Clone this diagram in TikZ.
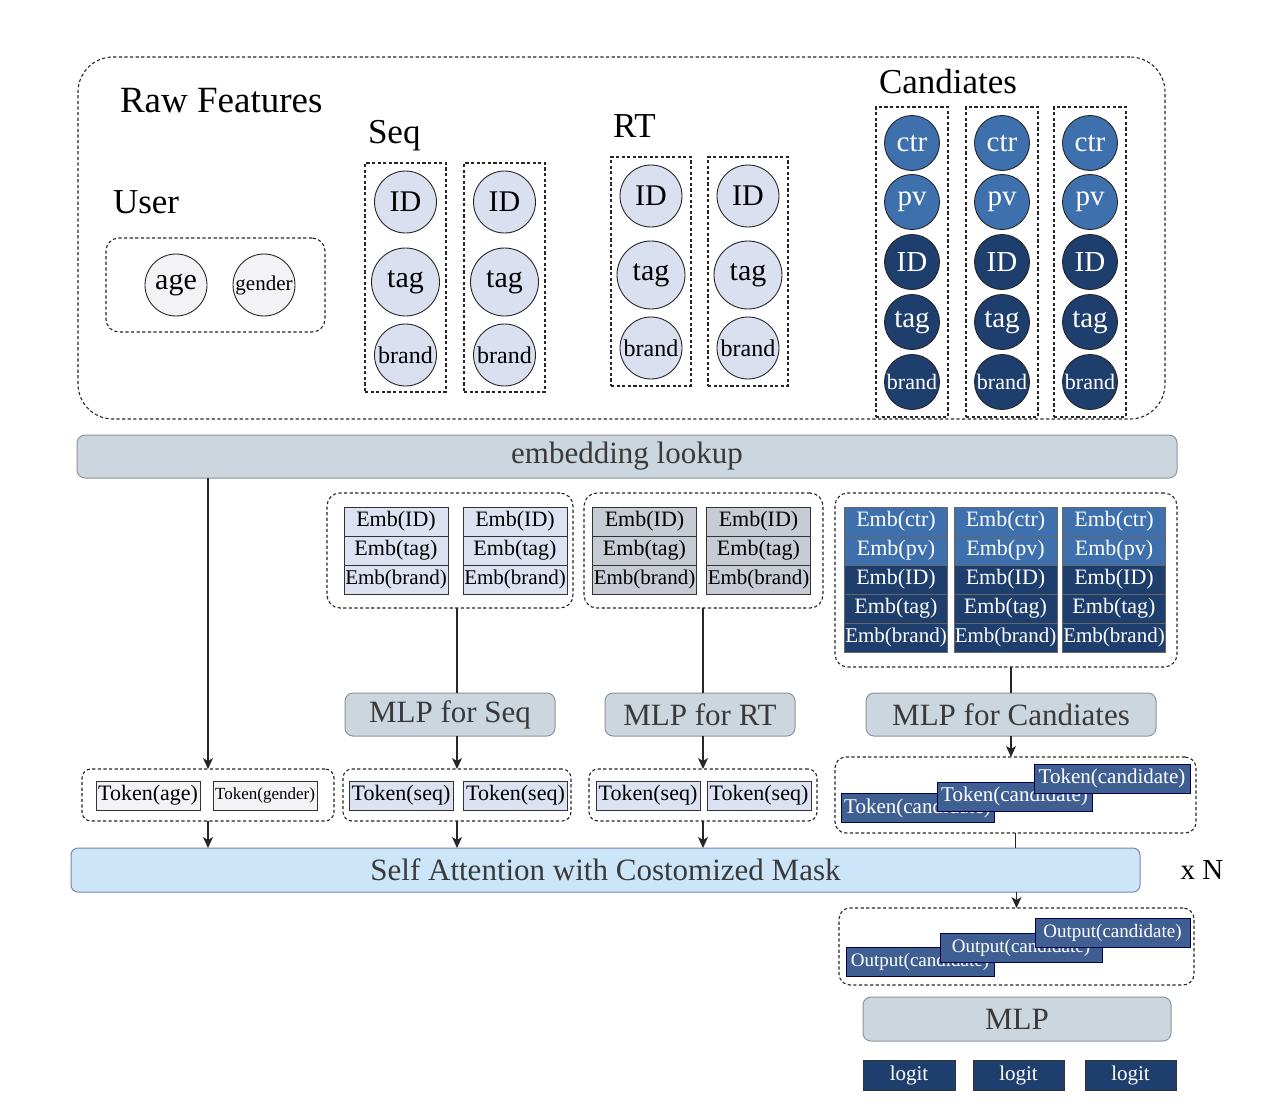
\documentclass[tikz,border=0pt]{standalone}
\usepackage{fontspec}
\setmainfont{Liberation Serif}
\usetikzlibrary{arrows.meta}
\newcommand\setfs[1]{\fontsize{#1}{#1}\selectfont}
\definecolor{lightc}{HTML}{F3F3F5}
\definecolor{seqc}{HTML}{DAE0EF}
\definecolor{candl}{HTML}{3E70AE}
\definecolor{candd}{HTML}{1E3E6E}
\definecolor{embseq}{HTML}{DCE2F1}
\definecolor{embrt}{HTML}{C7CBD4}
\definecolor{tokc}{HTML}{3F5F92}
\definecolor{barc}{HTML}{CCD6DF}
\definecolor{attc}{HTML}{CCE5F8}
\definecolor{bard}{HTML}{8C949C}
\definecolor{bartext}{HTML}{3A3A3A}
\begin{document}
\begin{tikzpicture}[x=1pt,y=-1pt,
  every node/.style={inner sep=0pt, outer sep=0pt},
  dbox/.style={draw=black!85, line width=1.1pt, dash pattern=on 3.2pt off 2.4pt},
  rbox/.style={dbox, rounded corners=13pt},
  title/.style={anchor=base west, font=\setfs{35}},
  circ/.style={circle, draw=black!85, line width=0.9pt, minimum size=#1},
  lc/.style={circ=#1, fill=lightc},
  sc/.style={circ=#1, fill=seqc, font=\setfs{30}},
  ccl/.style={circ=55pt, fill=candl, text=white, font=\setfs{29}},
  ccd/.style={circ=55pt, fill=candd, text=white, font=\setfs{29}},
  cell/.style={draw=black!80, line width=0.9pt, minimum width=104pt, minimum height=29pt, font=\setfs{22}},
  ccell/.style={draw=black!60, line width=0.6pt, minimum width=103pt, minimum height=29pt, font=\setfs{22}, text=white},
  bar/.style={draw=bard, line width=1pt, fill=barc, rounded corners=8pt, text=bartext, font=\setfs{31}},
  tok/.style={draw=black!80, line width=0.9pt, minimum width=104pt, minimum height=29pt, font=\setfs{22}},
  ctok/.style={draw=black!70!blue, line width=0.6pt, fill=tokc, text=white, minimum height=29pt},
  conn/.style={draw=black!85, line width=1.1pt},
  arr/.style={conn, -{Stealth[length=11pt,width=10pt,inset=3pt]}}
]
\useasboundingbox (0,0) rectangle (1280,1109);

% ---------- Raw features ----------
\node[dbox, rounded corners=35pt, minimum width=1087pt, minimum height=362pt] (raw) at (621.5,238) {};
\node[title, font=\setfs{37}] (rawt) at (120,112) {Raw Features};
\node[title] (usert) at (113,213) {User};
\node[title] (seqt) at (368,143) {Seq};
\node[title] (rtt) at (613,137) {RT};
\node[title] (candt) at (879,93) {Candiates};

% user
\node[rbox, minimum width=219pt, minimum height=94pt] (ubox) at (215.5,285) {};
\node[lc=62pt, font=\setfs{30}] (uage) at (176,285) {age};
\node[lc=62pt, font=\setfs{21}] (ugen) at (264,285) {gender};

% seq
\foreach \i/\x in {1/405.5,2/504.5}{
  \node[dbox, minimum width=81pt, minimum height=229pt] (sb\i) at (\x,277.5) {};
  \node[sc=62pt] (sid\i) at (\x,202) {ID};
  \node[sc=68pt] (stag\i) at (\x,282) {tag};
  \node[sc=62pt, font=\setfs{24}] (sbr\i) at (\x,355) {brand};
}
% rt
\foreach \i/\x in {1/651,2/748}{
  \node[dbox, minimum width=80pt, minimum height=229pt] (rb\i) at (\x,271.5) {};
  \node[sc=62pt] (rid\i) at (\x,196) {ID};
  \node[sc=68pt] (rtag\i) at (\x,275) {tag};
  \node[sc=62pt, font=\setfs{24}] (rbr\i) at (\x,348) {brand};
}
% candidates
\foreach \i/\x in {1/912,2/1002,3/1090}{
  \node[dbox, minimum width=72pt, minimum height=310pt] (cb\i) at (\x,262) {};
  \node[ccl] (cctr\i) at (\x,143) {ctr};
  \node[ccl] (cpv\i) at (\x,202) {pv};
  \node[ccd] (cid\i) at (\x,262) {ID};
  \node[ccd] (ctag\i) at (\x,322) {tag};
  \node[ccd, font=\setfs{22}] (cbr\i) at (\x,382) {brand};
}

% ---------- embedding lookup ----------
\node[bar, minimum width=1100pt, minimum height=43pt] (emb) at (627,456.5) {embedding lookup};

% seq emb
\node[rbox, minimum width=246pt, minimum height=115pt] (segrp) at (450,550.5) {};
\foreach \t/\x in {1/396,2/515}{
  \node[cell, fill=embseq] (seid\t) at (\x,521.5) {Emb(ID)};
  \node[cell, fill=embseq] (setag\t) at (\x,550.5) {Emb(tag)};
  \node[cell, fill=embseq, font=\setfs{21}] (sebr\t) at (\x,579.5) {Emb(brand)};
}
% rt emb
\node[rbox, minimum width=239pt, minimum height=115pt] (regrp) at (703.5,550.5) {};
\foreach \t/\x in {1/644.5,2/758.5}{
  \node[cell, fill=embrt] (reid\t) at (\x,521.5) {Emb(ID)};
  \node[cell, fill=embrt] (retag\t) at (\x,550.5) {Emb(tag)};
  \node[cell, fill=embrt, font=\setfs{21}] (rebr\t) at (\x,579.5) {Emb(brand)};
}
% cand emb
\node[rbox, minimum width=342pt, minimum height=174pt] (cegrp) at (1006,580) {};
\foreach \t/\x in {1/896,2/1005.5,3/1114}{
  \node[ccell, fill=candl] (cectr\t) at (\x,521.5) {Emb(ctr)};
  \node[ccell, fill=candl] (cepv\t) at (\x,550.5) {Emb(pv)};
  \node[ccell, fill=candd] (ceid\t) at (\x,579.5) {Emb(ID)};
  \node[ccell, fill=candd] (cetag\t) at (\x,608.5) {Emb(tag)};
  \node[ccell, fill=candd, font=\setfs{21}] (cebr\t) at (\x,637.5) {Emb(brand)};
}

% ---------- MLPs ----------
\node[bar, minimum width=210pt, minimum height=43pt] (mlps) at (450,714.5) {MLP for Seq};
\node[bar, minimum width=190pt, minimum height=43pt] (mlpr) at (700,714.5) {MLP for RT};
\node[bar, minimum width=290pt, minimum height=43pt] (mlpc) at (1011,714.5) {MLP for Candiates};

% ---------- tokens ----------
\node[rbox, rounded corners=9pt, minimum width=252pt, minimum height=52pt] (utok) at (208,795) {};
\node[tok, fill=lightc] (tage) at (148,795.5) {Token(age)};
\node[tok, fill=lightc, font=\setfs{17}] (tgen) at (265,795.5) {Token(gender)};

\node[rbox, rounded corners=9pt, minimum width=228pt, minimum height=52pt] (stok) at (457,795) {};
\node[tok, fill=embseq] (ts1) at (401,795.5) {Token(seq)};
\node[tok, fill=embseq] (ts2) at (515.5,795.5) {Token(seq)};

\node[rbox, rounded corners=9pt, minimum width=228pt, minimum height=52pt] (rtok) at (703,795) {};
\node[tok, fill=embseq] (tr1) at (648,795.5) {Token(seq)};
\node[tok, fill=embseq] (tr2) at (759,795.5) {Token(seq)};

\node[rbox, rounded corners=11pt, minimum width=361pt, minimum height=76pt] (ctok) at (1015.5,795) {};
\node[ctok, minimum width=153pt, font=\setfs{21}] (tc1) at (917.5,808) {Token(candidate)};
\node[ctok, minimum width=155pt, font=\setfs{21}] (tc2) at (1014.5,796.5) {Token(candidate)};
\node[ctok, minimum width=156pt, font=\setfs{21}] (tc3) at (1112,778.5) {Token(candidate)};

% ---------- attention ----------
\node[draw=bard!90!blue, line width=1pt, fill=attc, rounded corners=7pt, text=bartext, font=\setfs{31},
      minimum width=1069pt, minimum height=44pt] (att) at (605.5,870) {Self Attention with Costomized Mask};
\node[font=\setfs{29}] (xn) at (1202,870) {x N};

% ---------- output ----------
\node[rbox, rounded corners=11pt, minimum width=355pt, minimum height=77pt] (ogrp) at (1016.5,946.5) {};
\node[ctok, minimum width=148pt, font=\setfs{19}] (o1) at (920,961.5) {Output(candidate)};
\node[ctok, minimum width=162pt, font=\setfs{19}] (o2) at (1021,947.5) {Output(candidate)};
\node[ctok, minimum width=155pt, font=\setfs{19}] (o3) at (1112.5,932.5) {Output(candidate)};

\node[bar, minimum width=308pt, minimum height=44pt] (mlp) at (1017,1019) {MLP};
\node[draw=black!80, line width=0.8pt, fill=candd, text=white, font=\setfs{21}, minimum width=92pt, minimum height=30pt] (lg1) at (909,1075) {logit};
\node[draw=black!80, line width=0.8pt, fill=candd, text=white, font=\setfs{21}, minimum width=91pt, minimum height=30pt] (lg2) at (1018.5,1075) {logit};
\node[draw=black!80, line width=0.8pt, fill=candd, text=white, font=\setfs{21}, minimum width=91pt, minimum height=30pt] (lg3) at (1130.5,1075) {logit};

% ---------- connectors ----------
\draw[arr] (utok.north |- emb.south) -- (utok.north);
\draw[conn] (stok.north |- segrp.south) -- (stok.north |- mlps.north);
\draw[conn] (rtok.north |- regrp.south) -- (rtok.north |- mlpr.north);
\draw[conn] (cegrp.south -| mlpc.north) -- (mlpc.north);
\draw[arr] (stok.north |- mlps.south) -- (stok.north);
\draw[arr] (rtok.north |- mlpr.south) -- (rtok.north);
\draw[arr] (mlpc.south) -- (mlpc.south |- ctok.north);
\draw[arr] (utok.south) -- (utok.south |- att.north);
\draw[arr] (stok.south) -- (stok.south |- att.north);
\draw[arr] (rtok.south) -- (rtok.south |- att.north);
\draw[conn] (ctok.south) -- (ctok.south |- att.north);
\draw[arr] (ogrp.north |- att.south) -- (ogrp.north);
\end{tikzpicture}
\end{document}
